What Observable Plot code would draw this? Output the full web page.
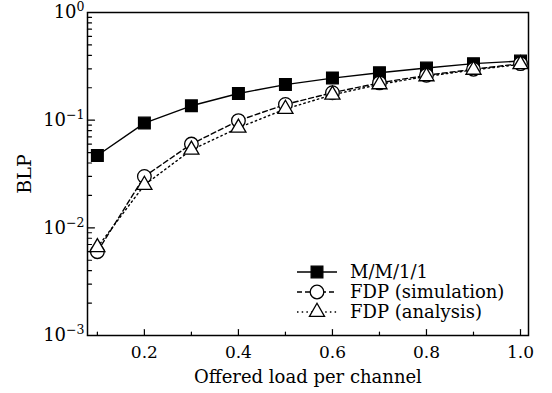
<!DOCTYPE html>
<html><head><meta charset="utf-8">
<script src="https://cdn.jsdelivr.net/npm/d3@7"></script>
<script src="https://cdn.jsdelivr.net/npm/@observablehq/plot@0.6"></script>
<style>
body{margin:0;background:#fff}
#chart{position:relative;width:552px;height:393px}
</style>
</head><body><div id="chart"></div>
<script>
// ---- data ----
const load = [0.1, 0.2, 0.3, 0.4, 0.5, 0.6, 0.7, 0.8, 0.9, 1.0];
const mm11 = [0.047, 0.094, 0.136, 0.177, 0.214, 0.246, 0.276, 0.305, 0.335, 0.354];
const fdpSim = [0.0060, 0.030, 0.060, 0.099, 0.140, 0.180, 0.222, 0.261, 0.297, 0.335];
const fdpAna = [0.0066, 0.025, 0.053, 0.085, 0.127, 0.172, 0.215, 0.255, 0.293, 0.330];
const seriesNames = ["M/M/1/1", "FDP (simulation)", "FDP (analysis)"];
const xMajorTicks = [0.2, 0.4, 0.6, 0.8, 1.0];
const xMinorTicks = [0.1, 0.3, 0.5, 0.7, 0.9];
const yMajorTicks = [0.001, 0.01, 0.1, 1];
const yMinorTicks = [0.002,0.003,0.004,0.005,0.006,0.007,0.008,0.009,
                     0.02,0.03,0.04,0.05,0.06,0.07,0.08,0.09,
                     0.2,0.3,0.4,0.5,0.6,0.7,0.8,0.9];
const xLabel = "Offered load per channel";
const yLabel = "BLP";

// ---- build table ----
const seriesValues = [mm11, fdpSim, fdpAna];
const rows = seriesNames.flatMap((s, i) => load.map((x, j) => ({x, y: seriesValues[i][j], series: s})));
const bySeries = s => rows.filter(r => r.series === s);

const styles = {
  "M/M/1/1": {dash: null, symbol: "square", r: 6.6, fill: "black"},
  "FDP (simulation)": {dash: "5,3", symbol: "circle", r: 6.8, fill: "white"},
  "FDP (analysis)": {dash: "1.5,3.2", symbol: "triangle", r: 5.6, fill: "white"}
};

const tickShape = {draw(ctx, l) { ctx.moveTo(0, 0); ctx.lineTo(0, -l); }};
const FONT = "DejaVu Serif";

const W = 552, H = 393;
const margin = {top: 12, right: 24, bottom: 58, left: 87};

const plot = Plot.plot({
  width: W, height: H,
  marginTop: margin.top, marginRight: margin.right, marginBottom: margin.bottom, marginLeft: margin.left,
  style: {fontFamily: FONT, fontSize: "17px", color: "black", background: "white"},
  x: {domain: [0.079, 1.017], label: xLabel},
  y: {type: "log", domain: [0.001, 1], label: yLabel},
  marks: [
    ...seriesNames.map(s => Plot.line(bySeries(s), {x: "x", y: "y", stroke: "black", strokeWidth: 1.4, strokeDasharray: styles[s].dash})),
    ...seriesNames.map(s => Plot.dot(bySeries(s), {x: "x", y: "y", symbol: () => styles[s].symbol, r: styles[s].r, fill: styles[s].fill, stroke: "black", strokeWidth: 1.3})),
    Plot.vector(xMajorTicks, {x: d => d, frameAnchor: "bottom", length: 6, rotate: 0, anchor: "start", shape: tickShape, stroke: "black", strokeWidth: 1.2}),
    Plot.vector(xMinorTicks, {x: d => d, frameAnchor: "bottom", length: 3.5, rotate: 0, anchor: "start", shape: tickShape, stroke: "black", strokeWidth: 1.2}),
    Plot.vector(yMajorTicks, {y: d => d, frameAnchor: "left", length: 7, rotate: 90, anchor: "start", shape: tickShape, stroke: "black", strokeWidth: 1.2}),
    Plot.vector(yMinorTicks, {y: d => d, frameAnchor: "left", length: 4, rotate: 90, anchor: "start", shape: tickShape, stroke: "black", strokeWidth: 1.2}),
    Plot.axisX(xMajorTicks, {tickSize: 0, tickPadding: 10, tickFormat: d3.format(".1f"), fontSize: 17, label: xLabel, labelAnchor: "center", labelOffset: 47}),
    Plot.axisY(yMajorTicks, {tickSize: 0, tickPadding: 3, tickFormat: d => `10|${Math.round(Math.log10(d))}`, fontSize: 18, label: yLabel, labelAnchor: "center", labelOffset: 70}),
    Plot.frame({stroke: "black", strokeWidth: 1.5})
  ]
});

const svg = d3.select(plot);
// superscript exponents on y tick labels
svg.selectAll('g[aria-label="y-axis tick label"] text').each(function() {
  const t = d3.select(this);
  const [base, exp] = t.text().split("|");
  t.text(base);
  t.append("tspan").attr("dy", "-0.55em").attr("font-size", "12.5px").text(exp.replace("-", "\u2212"));
});
// axis labels: plain text, no arrows
svg.selectAll('g[aria-label="x-axis label"] text').text(xLabel).attr("font-size", 18).attr("fill", "black");
svg.selectAll('g[aria-label="y-axis label"] text').text(yLabel).attr("font-size", 19).attr("fill", "black");

// legend inside the frame, bottom-right
const lg = svg.append("g").attr("font-family", FONT).attr("font-size", 18).attr("text-anchor", "start");
const lx = 297, ly = 272, step = 20;
seriesNames.forEach((s, i) => {
  const y = ly + i * step;
  const g = lg.append("g");
  g.append("line").attr("x1", lx).attr("x2", lx + 40).attr("y1", y).attr("y2", y)
    .attr("stroke", "black").attr("stroke-width", 1.4).attr("stroke-dasharray", styles[s].dash);
  const sym = {square: d3.symbolSquare, circle: d3.symbolCircle, triangle: d3.symbolTriangle}[styles[s].symbol];
  g.append("path").attr("d", d3.symbol(sym, Math.PI * styles[s].r * styles[s].r)())
    .attr("transform", `translate(${lx + 20},${y})`)
    .attr("fill", styles[s].fill).attr("stroke", "black").attr("stroke-width", 1.3);
  g.append("text").attr("x", lx + 53).attr("y", y).attr("dy", "0.35em").attr("text-anchor", "start").attr("fill", "black").text(s);
});

document.getElementById("chart").appendChild(plot);
</script>
</body></html>
